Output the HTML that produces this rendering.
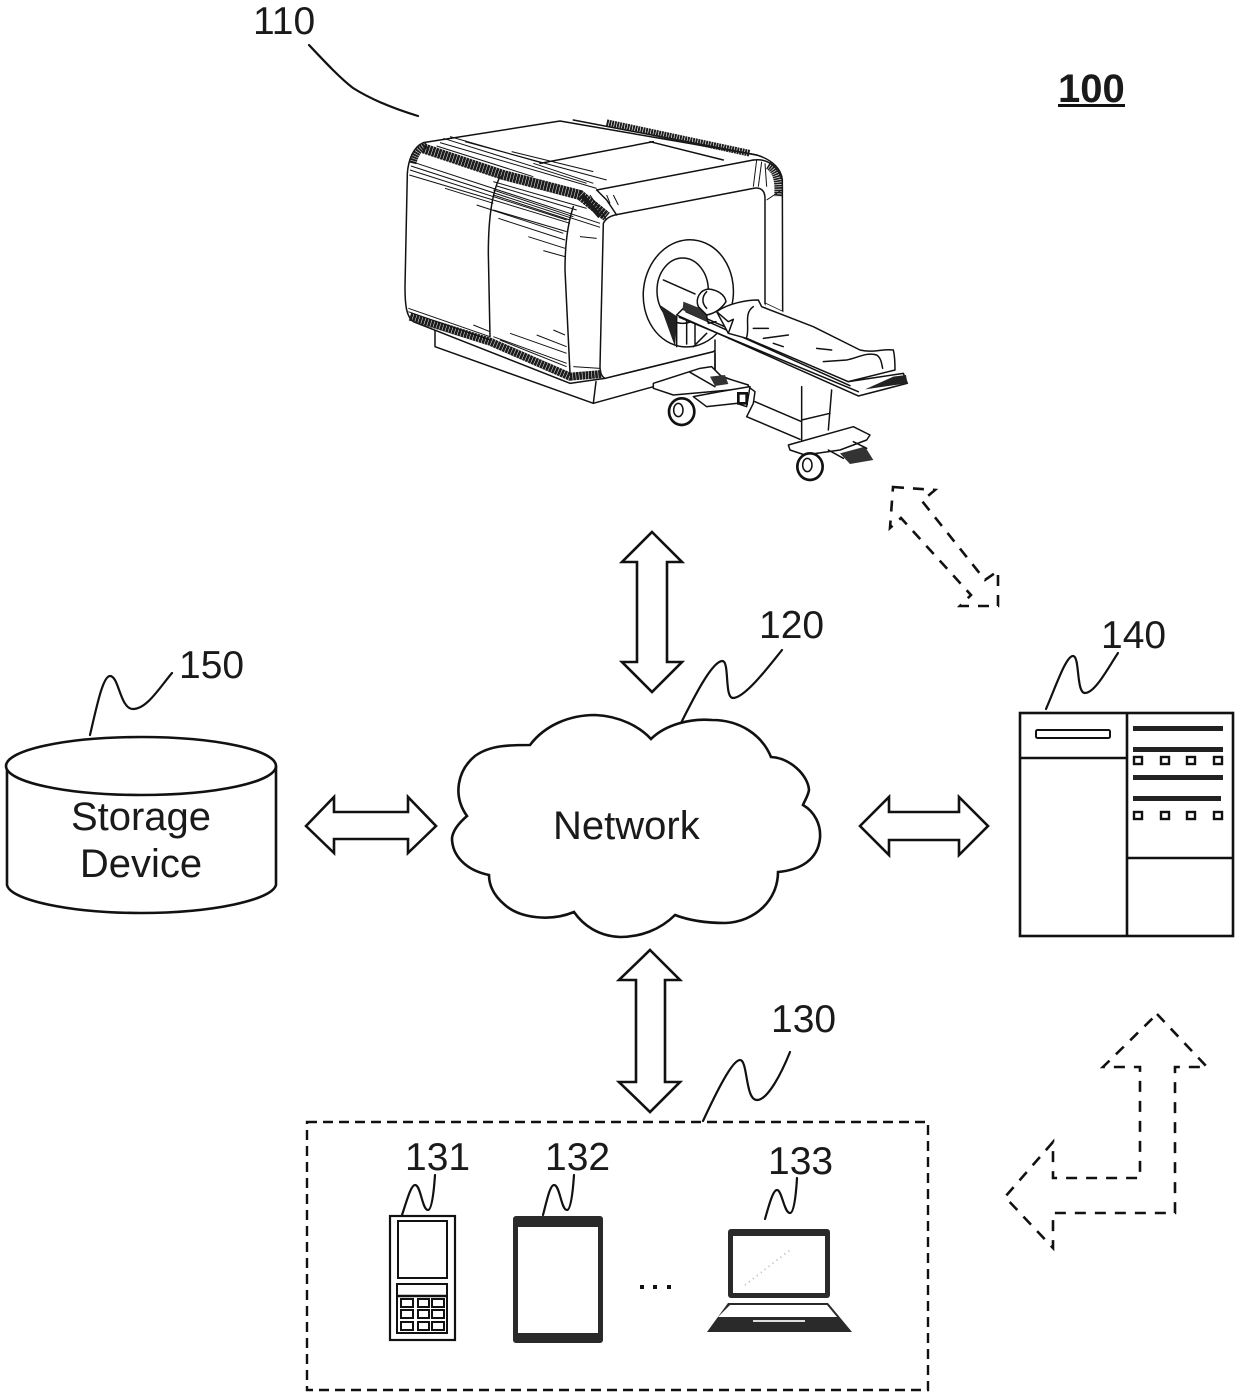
<!DOCTYPE html>
<html><head><meta charset="utf-8"><style>
html,body{margin:0;padding:0;background:#fff}
svg{display:block}
text{font-family:"Liberation Sans",sans-serif;font-size:39px;fill:#1a1a1a}
.big{font-size:40px}
.a{fill:#fff;stroke:#111;stroke-width:2.6;stroke-linejoin:miter}
.d{fill:none;stroke:#111;stroke-width:2.6;stroke-dasharray:11 9}
.s{fill:none;stroke:#111;stroke-width:2.2;stroke-linecap:round}
.m{fill:none;stroke:#111;stroke-width:4.5;stroke-linejoin:round;stroke-linecap:round}
.w{fill:#fff;stroke:#111;stroke-width:4.5;stroke-linejoin:round}
.h{fill:none;stroke:#111;stroke-width:3}
</style></head><body>
<svg width="1240" height="1397" viewBox="0 0 1240 1397" xmlns="http://www.w3.org/2000/svg">
<!-- labels -->
<text x="253" y="34">110</text>
<text x="759" y="638">120</text>
<text x="771" y="1032">130</text>
<text x="405" y="1170">131</text>
<text x="545" y="1170">132</text>
<text x="768" y="1174">133</text>
<text x="1101" y="648">140</text>
<text x="179" y="678">150</text>
<text x="1058" y="102" style="font-weight:bold;font-size:40px">100</text>
<rect x="1058" y="104" width="67" height="3" fill="#111"/>
<!-- squiggles -->
<path class="s" d="M309,45 C325,62 340,78 353,88 C372,100 395,109 418,116"/>
<path class="s" d="M680,725 C695,695 712,662 722,661 C730,660 724,698 733,698 C745,698 770,665 782,650"/>
<path class="s" d="M90,735 C97,705 103,676 110,676 C119,676 120,709 133,709 C147,709 160,687 172,673"/>
<path class="s" d="M1046,709 C1056,686 1066,656 1073,656 C1080,656 1076,693 1085,693 C1095,693 1108,668 1118,653"/>
<path class="s" d="M703,1121 C715,1095 732,1060 740,1060 C748,1060 745,1100 757,1100 C768,1100 782,1072 790,1052"/>
<path class="s" d="M402,1215 C407,1200 411,1185 415,1185 C421,1185 422,1210 428,1210 C432,1210 434,1190 435,1175"/>
<path class="s" d="M543,1215 C547,1200 550,1185 554,1185 C560,1185 561,1210 567,1210 C571,1210 573,1190 574,1175"/>
<path class="s" d="M765,1219 C769,1205 773,1190 777,1190 C782,1190 784,1213 790,1213 C794,1213 796,1195 797,1178"/>
<!-- solid arrows -->
<polygon class="a" points="652,532 682,562 667,562 667,662 682,662 652,692 622,662 637,662 637,562 622,562"/>
<polygon class="a" points="650,950 680,980 665,980 665,1082 680,1082 650,1112 619,1082 636,1082 636,980 619,980"/>
<polygon class="a" points="306,826 334,797 334,812 408,812 408,797 436,826 408,853 408,839 334,839 334,853"/>
<polygon class="a" points="860,826 889,797 889,812 959,812 959,797 988,826 959,855 959,840 889,840 889,855"/>
<!-- dashed arrows -->
<polygon class="d" points="893,487 935,490 922,501 985,580 998,571 998,606 960,606 971,595 901,518 890,528"/>
<polygon class="d" points="1157,1014 1207,1067 1175,1067 1175,1213 1053,1213 1053,1248 1005,1197 1053,1142 1053,1178 1140,1178 1140,1067 1103,1067"/>
<!-- cloud -->
<path class="a" d="M651,739 C665,725 690,718 712,720 C740,720 762,735 771,757 C790,758 808,775 809,790 C808,796 805,800 803,805 C815,812 821,825 820,838 C818,860 800,870 778,872 C778,900 755,922 725,923 C705,923 688,920 675,915 C660,930 640,937 620,937 C598,936 583,925 574,912 C550,922 520,918 505,905 C493,895 489,885 489,875 C465,870 452,855 452,838 C453,830 460,822 467,816 C452,795 458,770 475,756 C490,745 510,745 530,745 C545,725 570,715 595,715 C620,716 640,727 651,739Z"/>
<text class="big" x="553" y="839">Network</text>
<!-- cylinder -->
<path class="a" d="M7,766 L7,885 C10,900 70,913 141,913 C212,913 272,900 276,885 L276,766"/>
<ellipse class="a" cx="141" cy="766" rx="135" ry="29"/>
<text class="big" x="141" y="830" text-anchor="middle">Storage</text>
<text class="big" x="141" y="877" text-anchor="middle">Device</text>
<!-- server -->
<g fill="none" stroke="#111" stroke-width="2.6">
<rect x="1020" y="713" width="213" height="223"/>
<path d="M1127,713V936M1020,758H1127M1127,858H1233"/>
<rect x="1036" y="730" width="74" height="8" rx="1.5" stroke-width="2"/>
</g>
<g fill="#222">
<rect x="1133" y="726" width="90" height="5"/><rect x="1133" y="747" width="90" height="5"/>
<rect x="1133" y="775" width="90" height="5"/><rect x="1133" y="796" width="88" height="5"/>
</g>
<g fill="#fff" stroke="#111" stroke-width="2.4">
<rect x="1134" y="757" width="8" height="7"/><rect x="1161" y="757" width="8" height="7"/><rect x="1187" y="757" width="8" height="7"/><rect x="1214" y="757" width="8" height="7"/>
<rect x="1134" y="812" width="8" height="7"/><rect x="1161" y="812" width="8" height="7"/><rect x="1187" y="812" width="8" height="7"/><rect x="1214" y="812" width="8" height="7"/>
</g>
<!-- device box -->
<rect x="307" y="1122" width="621" height="268" fill="none" stroke="#111" stroke-width="2.4" stroke-dasharray="10 6"/>
<!-- phone -->
<g fill="none" stroke="#111" stroke-width="2">
<rect x="390" y="1216" width="65" height="124" stroke-width="2.2"/>
<rect x="398" y="1221" width="49" height="57"/>
<rect x="397" y="1284" width="50" height="49"/>
<path d="M397,1296H447" stroke-width="2.5"/>
<rect x="401" y="1299" width="12" height="8"/><rect x="418" y="1299" width="11" height="8"/><rect x="432" y="1299" width="12" height="8"/>
<rect x="401" y="1310" width="12" height="8"/><rect x="418" y="1310" width="11" height="8"/><rect x="432" y="1310" width="12" height="8"/>
<rect x="401" y="1322" width="12" height="8"/><rect x="418" y="1322" width="11" height="8"/><rect x="432" y="1322" width="12" height="8"/>
</g>
<!-- tablet -->
<rect x="513" y="1216" width="90" height="127" rx="3" fill="#2a2a2a"/>
<rect x="518" y="1227" width="80" height="106" fill="#fff"/>
<!-- dots -->
<rect x="640" y="1285" width="4" height="4" fill="#111"/><rect x="653" y="1285" width="4" height="4" fill="#111"/><rect x="667" y="1285" width="4" height="4" fill="#111"/>
<!-- laptop -->
<rect x="728" y="1229" width="102" height="69" rx="3" fill="#2a2a2a"/>
<rect x="733" y="1236" width="92" height="57" fill="#fff"/>
<path d="M745,1285 L790,1250" stroke="#bbb" stroke-width="2" stroke-dasharray="1 4" fill="none"/>
<polygon points="728,1303 828,1303 852,1332 707,1332" fill="#2a2a2a"/>
<polygon points="730,1305 827,1305 837,1317 718,1317" fill="#fff"/>
<rect x="753" y="1320" width="52" height="2" fill="#ddd"/>
<!-- scanner, in zoom coordinates -->
<g transform="translate(400 120) scale(0.33333)">
<!-- base -->
<path class="w" d="M105,630 L105,680 L580,850 L760,800 L945,750 L945,660 Z"/>
<path class="m" d="M588,785 L580,850"/>
<!-- body -->
<path class="w" d="M70,68 L480,3 L1070,105 C1120,120 1145,150 1147,180 L1148,575 L1095,550 L940,695 L615,775 L510,790 L40,605 C20,590 15,560 15,500 L22,160 C25,120 40,80 70,68 Z"/>
<path d="M1095,550 L1148,575 L1148,640 L945,700 L940,695 Z" fill="#fff"/>
<path class="m" d="M590,210 L1060,120 M420,130 L760,65 M750,65 L970,120 M520,0 L1070,105"/>
<path class="m" d="M1060,120 C1100,115 1130,135 1147,180"/>
<!-- face -->
<path class="w" d="M610,310 C620,290 640,285 660,282 L1060,205 C1085,200 1095,215 1095,235 L1095,560 L940,695 L615,775 C605,770 600,760 600,740 Z"/>
<path d="M1095,552 L945,697 L945,640 L1098,560 Z" fill="#fff"/>
<path class="m" d="M300,170 C275,220 265,300 265,400 L270,650"/>
<path class="m" d="M520,260 C500,320 495,390 495,450 L510,760"/>
<path class="m" d="M590,210 L620,240 L650,285"/>
<!-- dark bands -->
<g fill="none" stroke="#1c1c1c">
<path d="M70,85 L310,165 L540,225 L620,290" stroke-width="30" stroke-dasharray="8 1.5"/>
<path d="M38,130 C45,100 60,80 80,75" stroke-width="22" stroke-dasharray="6 1.5"/>
<path d="M620,8 L1050,100" stroke-width="20" stroke-dasharray="6 2"/>
<path d="M30,590 L270,665 L510,770 L605,762" stroke-width="24" stroke-dasharray="8 1.5"/>
<path d="M1105,135 C1130,150 1140,180 1135,230" stroke-width="26" stroke-dasharray="5 2"/>
<path d="M545,225 L600,290" stroke-width="14"/>
</g>
<!-- hatching -->
<g class="h">
<path d="M130,55 L560,190"/><path d="M120,68 L590,205"/><path d="M110,78 L400,170"/><path d="M195,65 L620,180"/><path d="M335,95 L580,155"/><path d="M400,130 L580,190"/><path d="M150,50 L430,130"/>
<path d="M35,125 L600,310"/><path d="M33,138 L600,322"/><path d="M30,150 L500,300"/><path d="M28,165 L280,240"/><path d="M135,205 L280,250"/><path d="M230,255 L490,340"/><path d="M280,240 L510,310"/><path d="M280,225 L510,300"/><path d="M280,210 L520,290"/><path d="M290,198 L530,270"/><path d="M295,295 L495,360"/><path d="M385,350 L495,385"/><path d="M430,392 L495,410"/><path d="M540,350 L590,355"/><path d="M280,270 L500,335"/><path d="M280,185 L560,265"/>
<path d="M25,565 L270,650"/><path d="M25,575 L270,660"/><path d="M220,615 L270,635"/><path d="M330,640 L500,700"/><path d="M410,645 L500,680"/><path d="M460,630 L495,645"/><path d="M280,650 L500,730"/><path d="M300,660 L500,740"/><path d="M520,740 L600,745"/>
<path d="M1070,120 L1060,200"/><path d="M1085,125 L1075,200"/><path d="M1095,130 L1100,200"/>
<path d="M640,225 L655,255"/><path d="M620,225 L630,250"/><path d="M570,225 L620,300"/><path d="M1100,240 L1145,210"/>
</g>
<!-- bore -->
<ellipse class="w" cx="865" cy="520" rx="135" ry="161" transform="rotate(6 865 520)"/>
<ellipse class="w" cx="848" cy="512" rx="77" ry="98"/>
<path d="M780,555 L825,680 L832,590 Z" fill="#222"/>
<path class="m" d="M790,480 L885,522 M830,590 L830,680 M860,600 L860,672 M885,610 L885,670 M920,640 L880,680"/>
<!-- pedestal -->
<path class="m" d="M945,660 L945,760 L1045,800 L1065,815 L1060,850 L1040,890 L1200,958 M1065,845 L1205,905 M1205,800 L1205,960 M1295,810 L1285,930 M1205,900 L1290,880"/>
<!-- table -->
<path class="w" d="M830,585 L850,565 L1345,785 L1510,760 L1522,790 L1375,828 Z"/>
<path class="m" d="M838,592 L1375,815 M858,575 L1350,797"/>
<path d="M850,545 L925,575 L920,605 L848,570 Z" fill="#333"/>
<path d="M1395,808 L1480,770 L1518,765 L1522,790 Z" fill="#222"/>
<!-- patient -->
<path class="w" d="M950,575 C985,550 1040,540 1075,540 L1085,560 L1240,620 L1380,690 C1420,700 1450,685 1480,690 C1485,710 1485,730 1485,750 L1345,785 L1040,655 L985,640 Z"/>
<path class="m" d="M1060,560 C1030,580 1050,620 1040,652 M950,575 L985,605 L1000,598 L985,640"/>
<path class="w" d="M925,507 C955,510 975,525 978,545 C965,565 945,580 920,585 L895,560 C885,535 900,510 925,507 Z"/>
<path class="m" d="M920,515 C905,530 905,550 920,565 M920,590 L925,610 L948,605"/>
<path class="m" d="M1060,625 L1105,625 M1090,655 L1165,645 M1120,670 L1150,680 M1250,685 L1295,690 M1270,725 L1340,720 C1370,715 1400,695 1430,705 C1445,715 1445,735 1448,745"/>
<!-- trolley front -->
<path class="w" d="M760,790 L900,745 L935,740 L965,770 L1045,795 L1045,805 L820,825 L760,805 Z"/>
<path class="m" d="M870,757 L945,800"/>
<path class="w" d="M880,830 L920,860 L1010,850 L1040,860 L1050,800 L960,815 Z"/>
<rect x="1015" y="820" width="25" height="30" fill="none" stroke="#111" stroke-width="8"/>
<path d="M930,770 L975,765 L985,792 L945,798 Z" fill="#333"/>
<ellipse class="w" cx="845" cy="875" rx="38" ry="40" style="stroke-width:8"/>
<ellipse class="w" cx="835" cy="870" rx="14" ry="20"/>
<!-- trolley rear -->
<path class="w" d="M1165,975 L1360,920 L1410,945 L1400,960 L1320,990 L1215,1005 L1170,990 Z"/>
<path d="M1320,1000 L1395,980 L1420,1020 L1350,1032 Z" fill="#333"/>
<path class="m" d="M1285,990 L1330,1015 M1360,965 L1400,985"/>
<ellipse class="w" cx="1230" cy="1040" rx="38" ry="40" style="stroke-width:8"/>
<ellipse class="w" cx="1222" cy="1035" rx="14" ry="20"/>
</g>
</svg>
</body></html>
